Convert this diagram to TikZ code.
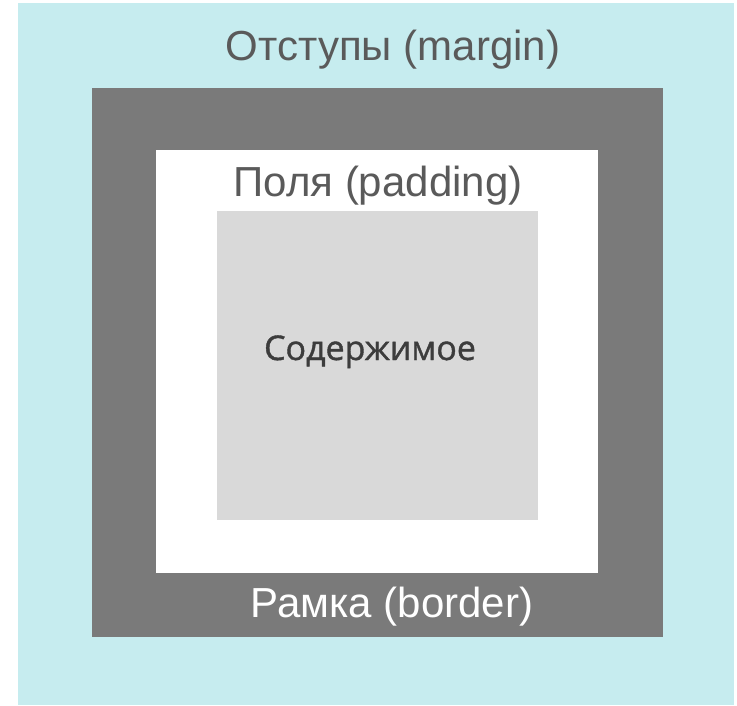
\documentclass[tikz,border=0pt]{standalone}
\usepackage{fontspec}
\setmainfont{Liberation Sans}
\newfontfamily\contentfont{Open Sans}[FakeBold=1.2]
\usepackage{tikz}
\usetikzlibrary{positioning}
\definecolor{marginblue}{HTML}{C6ECEF}
\definecolor{bordergray}{HTML}{7A7A7A}
\definecolor{contentgray}{HTML}{D9D9D9}
\definecolor{labelgray}{HTML}{5A5A5A}
\definecolor{contentink}{HTML}{3C3C3C}

\begin{document}
\begin{tikzpicture}[x=1pt, y=-1pt,
  boxlabel/.style={inner sep=0pt, anchor=base, font=\fontsize{42}{46}\selectfont}]
  \useasboundingbox (0,0) rectangle (737,705);

  % Margin area
  \fill[marginblue] (18,3) rectangle (734,705);

  % Border
  \fill[bordergray] (92,88) rectangle (663,637);

  % Padding
  \fill[white] (156,150) rectangle (598,573);

  % Content
  \fill[contentgray] (217,211) rectangle (538,520);

  % Labels
  \node[boxlabel, text=labelgray] (marginlabel) at (393,60) {Отступы (margin)};
  \node[boxlabel, text=labelgray] (paddinglabel) at (378,196) {Поля (padding)};
  \node[inner sep=0pt, anchor=base, text=contentink,
        font=\contentfont\fontsize{34}{38}\selectfont] (contentlabel) at (370,360) {Содержимое};
  \node[boxlabel, text=white] (borderlabel) at (392,617) {Рамка (border)};
\end{tikzpicture}
\end{document}
